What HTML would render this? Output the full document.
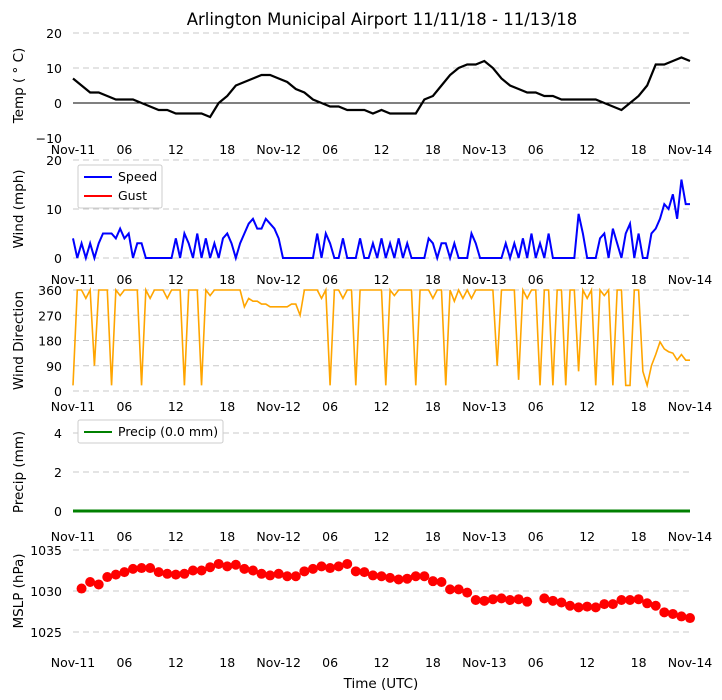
<!DOCTYPE html>
<html><head><meta charset="utf-8"><style>
body{margin:0;background:#fff;}
svg{display:block;font-family:"DejaVu Sans","Liberation Sans",sans-serif;}
</style></head><body>
<svg id="c" width="722" height="700" viewBox="0 0 722 700">
<text x="382" y="25" font-size="16.5" text-anchor="middle">Arlington Municipal Airport 11/11/18 - 11/13/18</text>
<text x="381" y="688" font-size="13.5" text-anchor="middle">Time (UTC)</text>
</svg>
<script>
const xTickLabels=["Nov-11","06","12","18","Nov-12","06","12","18","Nov-13","06","12","18","Nov-14"];
const tempVals=[7,5,3,3,2,1,1,1,0,-1,-2,-2,-3,-3,-3,-3,-4,0,2,5,6,7,8,8,7,6,4,3,1,0,-1,-1,-2,-2,-2,-3,-2,-3,-3,-3,-3,1,2,5,8,10,11,11,12,10,7,5,4,3,3,2,2,1,1,1,1,1,0,-1,-2,0,2,5,11,11,12,13,12];
const windVals=[4,0,3,0,3,0,3,5,5,5,4,6,4,5,0,3,3,0,0,0,0,0,0,0,4,0,5,3,0,5,0,4,0,3,0,4,5,3,0,3,5,7,8,6,6,8,7,6,4,0,0,0,0,0,0,0,0,5,0,5,3,0,0,4,0,0,0,4,0,0,3,0,4,0,3,0,4,0,3,0,0,0,0,4,3,0,3,3,0,3,0,0,0,5,3,0,0,0,0,0,0,3,0,3,0,4,0,5,0,3,0,5,0,0,0,0,0,0,9,5,0,0,0,4,5,0,6,3,0,5,7,0,5,0,0,5,6,8,11,10,13,8,16,11,11];
const dirVals=[];for(let i=0;i<145;i++)dirVals.push(360);
const dirEdits=[[0,20],[3,330],[5,90],[9,20],[11,340],[16,20],[18,330],[22,330],[26,20],[30,20],[32,340],[40,300],[41,330],[42,320],[43,320],[44,310],[45,310],[46,300],[47,300],[48,300],[49,300],[50,300],[51,310],[52,310],[53,270],[58,330],[60,20],[63,330],[66,20],[73,20],[75,340],[80,20],[84,330],[87,20],[89,320],[91,330],[93,330],[99,90],[104,40],[106,330],[109,20],[112,20],[115,20],[118,70],[120,330],[122,20],[124,340],[126,20],[129,20],[130,20],[133,70],[134,20],[135,90],[136,130],[137,175],[138,150],[139,140],[140,135],[141,110],[142,130],[143,110],[144,110]];
dirEdits.forEach(e=>{dirVals[e[0]]=e[1];});
const precipVals=[0,0];
const mslpHours=[];for(let h=1;h<=72;h++)if(h!==54)mslpHours.push(h);
const mslpVals=[1030.3,1031.1,1030.8,1031.7,1032.0,1032.3,1032.7,1032.8,1032.8,1032.3,1032.1,1032.0,1032.1,1032.5,1032.5,1032.9,1033.3,1033.0,1033.2,1032.7,1032.5,1032.1,1031.9,1032.1,1031.8,1031.8,1032.4,1032.7,1033.0,1032.8,1033.0,1033.3,1032.4,1032.3,1031.9,1031.8,1031.6,1031.4,1031.5,1031.8,1031.8,1031.2,1031.1,1030.2,1030.2,1029.8,1028.9,1028.8,1029.0,1029.1,1028.9,1029.0,1028.7,1029.1,1028.8,1028.6,1028.2,1028.0,1028.1,1028.0,1028.4,1028.4,1028.9,1028.9,1029.0,1028.5,1028.2,1027.4,1027.2,1026.9,1026.7];

const svg=document.getElementById('c');
const NS='http://www.w3.org/2000/svg';
const X0=73,X1=690;
const xs=h=>X0+(X1-X0)*h/72;
function mk(tag,attrs,parent){const e=document.createElementNS(NS,tag);for(const k in attrs)e.setAttribute(k,attrs[k]);(parent||svg).appendChild(e);return e;}
const panels=[
 {name:'temp',lab:'Temp ( ° C)',min:-10,max:20,top:33,bot:138,ticks:[-10,0,10,20],grid:[10,20],xl:154},
 {name:'wind',lab:'Wind (mph)',min:0,max:20,top:160,bot:258,ticks:[0,10,20],grid:[0,10,20],xl:284},
 {name:'direction',lab:'Wind Direction',min:0,max:360,top:290,bot:391,ticks:[0,90,180,270,360],grid:[0,90,180,270,360],xl:411},
 {name:'precip',lab:'Precip (mm)',min:0,max:4,top:433,bot:511,ticks:[0,2,4],grid:[0,2,4],xl:541},
 {name:'mslp',lab:'MSLP (hPa)',min:1025,max:1035,top:550,bot:632,ticks:[1025,1030,1035],grid:[1025,1030,1035],xl:667}
];
panels.forEach(p=>{
 p.y=v=>p.bot-(v-p.min)*(p.bot-p.top)/(p.max-p.min);
 const g=mk('g',{});
 
 
 p.g=g;
 p.grid.forEach(v=>{const l=mk('line',{x1:X0,x2:X1,y1:p.y(v),y2:p.y(v),stroke:'#c8c8c8','stroke-dasharray':'6,4','stroke-width':1},g);
  });
 p.ticks.forEach(v=>{const t=mk('text',{x:62,y:p.y(v)+5,'font-size':12.5,'text-anchor':'end'},g);t.textContent=String(v).replace('-','\u2212');
  });
 xTickLabels.forEach((s,i)=>{const t=mk('text',{x:xs(i*6),y:p.xl,'font-size':12.5,'text-anchor':'middle'},g);t.textContent=s;
  });
 const cy=(p.top+p.bot)/2;
 const yl=mk('text',{x:0,y:0,'font-size':13.5,'text-anchor':'middle',transform:`translate(23,${cy}) rotate(-90)`},g);
 yl.textContent=p.lab;
 
});
(function(){const p=panels[0];
 const z=mk('line',{x1:X0,x2:X1,y1:p.y(0),y2:p.y(0),stroke:'#000','stroke-width':1},p.g);
 
 let d='';tempVals.forEach((v,i)=>{d+=(i?'L':'M')+xs(i)+','+p.y(v);});
 const l=mk('path',{d:d,fill:'none',stroke:'#000','stroke-width':2.2},p.g);
 
})();
(function(){const p=panels[1];
 let d='';windVals.forEach((v,i)=>{d+=(i?'L':'M')+xs(i/2)+','+p.y(v);});
 const l=mk('path',{d:d,fill:'none',stroke:'#0000ff','stroke-width':2},p.g);
 
 const lg=mk('g',{},p.g);
 mk('rect',{x:78,y:165,width:84,height:43,fill:'#fff',stroke:'#ccc',rx:2},lg);
 mk('line',{x1:84,x2:112,y1:177,y2:177,stroke:'#0000ff','stroke-width':2},lg);
 mk('line',{x1:84,x2:112,y1:196,y2:196,stroke:'#ff0000','stroke-width':2},lg);
 const t1=mk('text',{x:118,y:181,'font-size':12.5},lg);t1.textContent='Speed';
 
 const t2=mk('text',{x:118,y:200,'font-size':12.5},lg);t2.textContent='Gust';
 
})();
(function(){const p=panels[2];
 let d='';dirVals.forEach((v,i)=>{d+=(i?'L':'M')+xs(i/2)+','+p.y(v);});
 const l=mk('path',{d:d,fill:'none',stroke:'#ffa500','stroke-width':1.6},p.g);
 
})();
(function(){const p=panels[3];
 const l=mk('line',{x1:xs(0),x2:xs(72),y1:p.y(precipVals[0]),y2:p.y(precipVals[1]),stroke:'#008000','stroke-width':3},p.g);
 
 const lg=mk('g',{},p.g);
 mk('rect',{x:78,y:420,width:145,height:23,fill:'#fff',stroke:'#ccc',rx:2},lg);
 mk('line',{x1:84,x2:112,y1:432,y2:432,stroke:'#008000','stroke-width':2},lg);
 const t=mk('text',{x:118,y:436,'font-size':12.5},lg);t.textContent='Precip (0.0 mm)';
 
})();
(function(){const p=panels[4];
 mslpVals.forEach((v,i)=>{const c=mk('circle',{cx:xs(mslpHours[i]),cy:p.y(v),r:5,fill:'#ff0000'},p.g);
  });
})();
</script>
</body></html>
